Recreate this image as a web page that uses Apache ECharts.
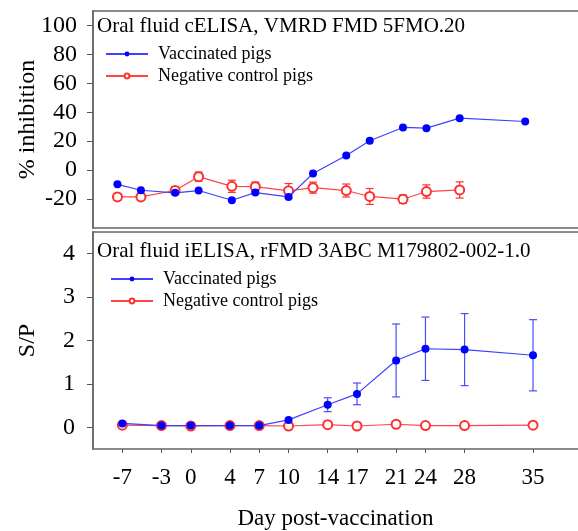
<!DOCTYPE html>
<html>
<head>
<meta charset="utf-8">
<title>Oral fluid ELISA</title>
<script src="https://cdn.jsdelivr.net/npm/echarts@6/dist/echarts.min.js"></script>
<style>
	html, body { margin: 0; padding: 0; background: #fff; }
	#chart_1 { width: 578px; height: 531px; }
</style>
</head>
<body>
<div id="chart_1"></div>
<script>
// ---- data ----
// top panel: cELISA (% inhibition)
var topVaccDays = [-7.5, -5.1, -1.6, 0.8, 4.2, 6.6, 10, 12.5, 15.9, 18.3, 21.7, 24.1, 27.5, 34.2];
var topVaccValues = [-9.8, -13.9, -15.7, -14.1, -20.8, -15.5, -18.5, -2.3, 10.1, 20.3, 29.5, 29.0, 35.9, 33.6];
var topNegDays = [-7.5, -5.1, -1.6, 0.8, 4.2, 6.6, 10, 12.5, 15.9, 18.3, 21.7, 24.1, 27.5];
var topNegValues = [-18.5, -18.5, -14.1, -4.5, -11.2, -11.4, -14.3, -12.1, -14.1, -18.2, -20.1, -14.8, -13.7];
var topNegErr = [2.4, 2.4, 2.7, 3.2, 4.2, 3.2, 5.0, 3.8, 4.5, 5.5, 2.9, 4.6, 5.6];
var topTicks = [-20, 0, 20, 40, 60, 80, 100];

// bottom panel: iELISA (S/P)
var days = [-7, -3, 0, 4, 7, 10, 14, 17, 21, 24, 28, 35];
var vaccValues = [0.09, 0.04, 0.04, 0.04, 0.04, 0.17, 0.52, 0.77, 1.54, 1.81, 1.79, 1.66];
var vaccErr = [0, 0, 0, 0, 0, 0, 0.16, 0.25, 0.84, 0.73, 0.83, 0.82];
var negValues = [0.05, 0.04, 0.03, 0.04, 0.04, 0.03, 0.06, 0.03, 0.07, 0.04, 0.04, 0.05];
var bottomTicks = [0, 1, 2, 3, 4];

var FONT = "'Liberation Serif', 'Times New Roman', serif";
var BLUE = '#0000ff';
var RED = '#ff3030';
var FRAME = { show: true, onZero: false, lineStyle: { color: '#666', width: 1.5 } };

function pairs(xs, ys) {
	var out = [];
	for (var i = 0; i < xs.length; i++) out.push([xs[i], ys[i]]);
	return out;
}

function errData(xs, ys, es) {
	var out = [];
	for (var i = 0; i < xs.length; i++) {
		if (es[i] > 0) out.push([xs[i], ys[i] - es[i], ys[i] + es[i]]);
	}
	return out;
}

// vertical error bar with caps
function renderErr(params, api) {
	var lo = api.coord([api.value(0), api.value(1)]);
	var hi = api.coord([api.value(0), api.value(2)]);
	var cap = 4;
	var style = { stroke: api.visual('color'), lineWidth: 1.2 };
	return {
		type: 'group',
		children: [
			{ type: 'line', shape: { x1: lo[0], y1: lo[1], x2: hi[0], y2: hi[1] }, style: style },
			{ type: 'line', shape: { x1: lo[0] - cap, y1: lo[1], x2: lo[0] + cap, y2: lo[1] }, style: style },
			{ type: 'line', shape: { x1: hi[0] - cap, y1: hi[1], x2: hi[0] + cap, y2: hi[1] }, style: style }
		]
	};
}

// plain x axis used only as a frame line
function frameAxis(grid, pos) {
	return {
		type: 'value', gridIndex: grid, position: pos, min: -10, max: 39.6,
		axisLine: FRAME, axisTick: { show: false }, axisLabel: { show: false }, splitLine: { show: false }
	};
}

// label-less y axis that only carries the axis title
function nameAxis(grid, name, min, max) {
	return {
		type: 'value', gridIndex: grid, position: 'left', min: min, max: max, name: name,
		nameLocation: 'middle', nameGap: 53,
		nameTextStyle: { fontFamily: FONT, fontSize: 24, color: '#000' },
		axisLine: FRAME, axisTick: { show: false }, axisLabel: { show: false }, splitLine: { show: false }
	};
}

function echart_1() {
	var myChart = echarts.init(document.getElementById('chart_1'));

	var yAxisBase = {
		position: 'left',
		axisLine: FRAME,
		axisTick: { show: true, length: 6, lineStyle: { color: '#555' } },
		splitLine: { show: false },
		axisLabel: { fontFamily: FONT, fontSize: 24, color: '#000', margin: 16 }
	};

	var legendBase = {
		orient: 'vertical',
		padding: 0,
		itemWidth: 42,
		itemHeight: 6,
		itemGap: 4,
		selectedMode: false,
		textStyle: { fontFamily: FONT, fontSize: 18, color: '#000', padding: [0, 0, 0, 5] }
	};

	var option = {
		backgroundColor: '#fff',
		animation: false,
		title: [{
			text: 'Oral fluid cELISA, VMRD FMD 5FMO.20',
			left: 97, top: 16, padding: 0,
			textStyle: { fontFamily: FONT, fontSize: 21, fontWeight: 'normal', color: '#000' }
		}, {
			text: 'Oral fluid iELISA, rFMD 3ABC M179802-002-1.0',
			left: 97, top: 241, padding: 0,
			textStyle: { fontFamily: FONT, fontSize: 21, fontWeight: 'normal', color: '#000' }
		}],
		legend: [
			Object.assign({}, legendBase, { left: 105, top: 45, data: ['Vaccinated pigs', 'Negative control pigs'] }),
			Object.assign({}, legendBase, { left: 110, top: 270, data: ['Vaccinated pigs', 'Negative control pigs'] })
		],
		grid: [
			{ left: 93, top: 11, right: 0, height: 217, outerBoundsMode: 'none' },
			{ left: 93, top: 232, right: 0, height: 217, outerBoundsMode: 'none' }
		],
		xAxis: [
			frameAxis(0, 'bottom'),
			{
				type: 'value', gridIndex: 1, min: -10, max: 39.6,
				name: 'Day post-vaccination',
				nameLocation: 'middle',
				nameGap: 58,
				nameTextStyle: { fontFamily: FONT, fontSize: 23, color: '#000' },
				axisLine: FRAME,
				splitLine: { show: false },
				axisTick: { show: true, length: 4, customValues: days, lineStyle: { color: '#555' } },
				axisLabel: { fontFamily: FONT, fontSize: 23, color: '#000', margin: 17, customValues: days }
			},
			frameAxis(0, 'top'),
			frameAxis(1, 'top')
		],
		yAxis: [
			Object.assign({}, yAxisBase, {
				type: 'value', gridIndex: 0, min: -40, max: 110,
				axisTick: Object.assign({}, yAxisBase.axisTick, { customValues: topTicks }),
				axisLabel: Object.assign({}, yAxisBase.axisLabel, { customValues: topTicks })
			}),
			Object.assign({}, yAxisBase, {
				type: 'value', gridIndex: 1, min: -0.5, max: 4.5,
				axisLabel: Object.assign({}, yAxisBase.axisLabel, { margin: 18, customValues: bottomTicks }),
				axisTick: Object.assign({}, yAxisBase.axisTick, { customValues: bottomTicks })
			}),
			nameAxis(0, '% inhibition', -40, 110),
			nameAxis(1, 'S/P', -0.5, 4.5)
		],
		series: [
			// error bars first so the markers sit on top
			{
				type: 'custom', xAxisIndex: 0, yAxisIndex: 0, color: RED, z: 1,
				renderItem: renderErr, encode: { x: 0, y: [1, 2] },
				data: errData(topNegDays, topNegValues, topNegErr)
			}, {
				type: 'custom', xAxisIndex: 1, yAxisIndex: 1, color: '#4a4aff', z: 1,
				renderItem: renderErr, encode: { x: 0, y: [1, 2] },
				data: errData(days, vaccValues, vaccErr)
			}, {
				name: 'Vaccinated pigs', type: 'line', xAxisIndex: 0, yAxisIndex: 0, z: 3,
				color: BLUE, symbol: 'circle', symbolSize: 8,
				lineStyle: { color: '#4040ff', width: 1.2 },
				data: pairs(topVaccDays, topVaccValues)
			}, {
				name: 'Negative control pigs', type: 'line', xAxisIndex: 0, yAxisIndex: 0, z: 2,
				color: RED, symbol: 'emptyCircle', symbolSize: 9,
				itemStyle: { borderWidth: 1.5 },
				lineStyle: { color: '#ff4444', width: 1.2 },
				data: pairs(topNegDays, topNegValues)
			}, {
				name: 'Vaccinated pigs', type: 'line', xAxisIndex: 1, yAxisIndex: 1, z: 3,
				color: BLUE, symbol: 'circle', symbolSize: 8,
				lineStyle: { color: '#4040ff', width: 1.2 },
				data: pairs(days, vaccValues)
			}, {
				name: 'Negative control pigs', type: 'line', xAxisIndex: 1, yAxisIndex: 1, z: 2,
				color: RED, symbol: 'emptyCircle', symbolSize: 9,
				itemStyle: { borderWidth: 1.5 },
				lineStyle: { color: '#ff4444', width: 1.2 },
				data: pairs(days, negValues)
			}
		]
	};

	myChart.setOption(option);
	window.addEventListener('resize', function() {
		myChart.resize();
	});
}

echart_1();
</script>
</body>
</html>
